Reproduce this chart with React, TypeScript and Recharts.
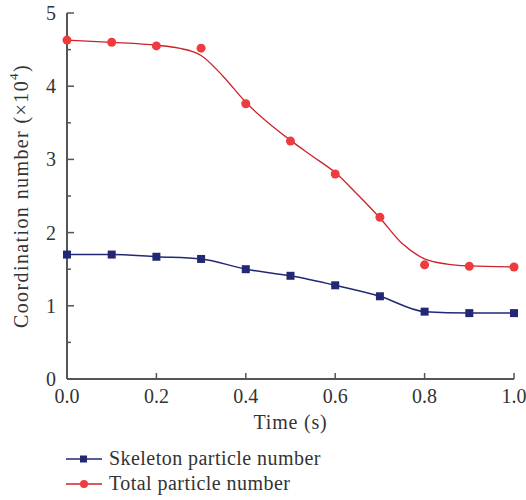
import React from 'react';
import { ComposedChart, Line, Scatter, XAxis, YAxis } from 'recharts';

const times = [0, 0.1, 0.2, 0.3, 0.4, 0.5, 0.6, 0.7, 0.8, 0.9, 1.0];
const skeletonValues = [1.7, 1.7, 1.67, 1.64, 1.5, 1.41, 1.28, 1.13, 0.92, 0.9, 0.9];
const totalValues = [4.63, 4.6, 4.55, 4.52, 3.76, 3.25, 2.8, 2.21, 1.56, 1.54, 1.53];
const totalFitTimes = [0, 0.1, 0.2, 0.25, 0.3, 0.35, 0.4, 0.45, 0.5, 0.55, 0.6, 0.65, 0.7, 0.75, 0.8, 0.85, 0.9, 1.0];
const totalFitValues = [4.63, 4.6, 4.56, 4.52, 4.42, 4.13, 3.78, 3.5, 3.26, 3.04, 2.82, 2.52, 2.2, 1.85, 1.64, 1.57, 1.545, 1.53];
const xTicks = [0, 0.2, 0.4, 0.6, 0.8, 1.0];
const yTicks = [0, 0.5, 1, 1.5, 2, 2.5, 3, 3.5, 4, 4.5, 5];

const skeletonData = times.map((t, i) => ({ t, v: skeletonValues[i] }));
const totalData = times.map((t, i) => ({ t, v: totalValues[i] }));
const totalFitData = totalFitTimes.map((t, i) => ({ t, v: totalFitValues[i] }));

const FONT = '"Liberation Serif", "DejaVu Serif", serif';
const AXIS = '#555555';
const TEXT = '#333333';
const RED_LINE = '#cc2229';
const RED_DOT = '#ee3b3e';
const BLUE = '#232875';

const YTick = (props: any) => {
  const { x, y, payload } = props;
  const v = payload.value as number;
  const major = Math.abs(v - Math.round(v)) < 1e-6;
  return (
    <g>
      <line x1={x} y1={y} x2={x + (major ? 7 : 4)} y2={y} stroke={AXIS} strokeWidth={1.5} />
      {major && (
        <text x={x - 11} y={y} dy="0.35em" textAnchor="end" fontFamily={FONT} fontSize={20} fill={TEXT}>
          {v}
        </text>
      )}
    </g>
  );
};

const XTick = (props: any) => {
  const { x, y, payload } = props;
  const v = payload.value as number;
  return (
    <g>
      <line x1={x} y1={y} x2={x} y2={y - 6} stroke={AXIS} strokeWidth={1.5} />
      <text x={x} y={y + 24} textAnchor="middle" fontFamily={FONT} fontSize={20} fill={TEXT}>
        {v.toFixed(1)}
      </text>
    </g>
  );
};

const YLabel = (props: any) => {
  const vb = props.viewBox || { x: 0, y: 13, width: 67, height: 366 };
  const cx = vb.x + 21;
  const cy = vb.y + vb.height / 2;
  return (
    <text
      x={cx}
      y={cy}
      transform={`rotate(-90, ${cx}, ${cy})`}
      textAnchor="middle"
      dominantBaseline="central"
      fontFamily={FONT}
      fontSize={20}
      letterSpacing={1.4}
      fill={TEXT}
    >
      Coordination number (×10
      <tspan fontSize={13} dy={-8}>4</tspan>
      <tspan dy={8}>)</tspan>
    </text>
  );
};

const XLabel = (props: any) => {
  const vb = props.viewBox || { x: 67, y: 379, width: 447, height: 50 };
  const cx = vb.x + vb.width / 2;
  return (
    <text x={cx} y={vb.y + 50} textAnchor="middle" fontFamily={FONT} fontSize={20} letterSpacing={0.8} fill={TEXT}>
      Time (s)
    </text>
  );
};

const Square = (props: any) => {
  const { cx, cy } = props;
  return <rect x={cx - 4} y={cy - 4} width={8} height={8} fill={BLUE} />;
};

const Dot = (props: any) => {
  const { cx, cy } = props;
  return <circle cx={cx} cy={cy} r={4.5} fill={RED_DOT} />;
};

const LegendRow = ({ color, marker, label }: { color: string; marker: 'square' | 'circle'; label: string }) => (
  <div style={{ display: 'flex', alignItems: 'center', height: 25 }}>
    <svg width={38} height={14} style={{ marginRight: 5 }}>
      <line x1={0} y1={7} x2={36} y2={7} stroke={color} strokeWidth={1.5} />
      {marker === 'square' ? (
        <rect x={14} y={3.5} width={7} height={7} fill={BLUE} />
      ) : (
        <circle cx={18} cy={7} r={4} fill={RED_DOT} />
      )}
    </svg>
    <span style={{ fontFamily: FONT, fontSize: 20, letterSpacing: 0.45, color: TEXT }}>{label}</span>
  </div>
);

export default function App() {
  return (
    <div style={{ position: 'absolute', left: 0, top: 0, width: 526, height: 500, background: '#fff' }}>
      <ComposedChart width={526} height={500} margin={{ top: 13, right: 12, left: 0, bottom: 71 }}>
        <XAxis
          type="number"
          dataKey="t"
          domain={[0, 1]}
          ticks={xTicks}
          tick={<XTick />}
          tickLine={false}
          tickSize={0}
          tickMargin={0}
          height={50}
          axisLine={{ stroke: AXIS, strokeWidth: 2 }}
          allowDuplicatedCategory={false}
          label={<XLabel />}
        />
        <YAxis
          type="number"
          domain={[0, 5]}
          ticks={yTicks}
          tick={<YTick />}
          tickLine={false}
          tickSize={0}
          tickMargin={0}
          width={67}
          interval={0}
          axisLine={{ stroke: AXIS, strokeWidth: 2 }}
          label={<YLabel />}
        />
        <Line
          data={totalFitData}
          dataKey="v"
          type="monotone"
          stroke={RED_LINE}
          strokeWidth={1.3}
          dot={false}
          activeDot={false}
          isAnimationActive={false}
        />
        <Line
          data={skeletonData}
          dataKey="v"
          type="monotone"
          stroke={BLUE}
          strokeWidth={1.5}
          dot={false}
          activeDot={false}
          isAnimationActive={false}
        />
        <Scatter data={totalData} dataKey="v" shape={<Dot />} isAnimationActive={false} />
        <Scatter data={skeletonData} dataKey="v" shape={<Square />} isAnimationActive={false} />
      </ComposedChart>
      <div style={{ position: 'absolute', left: 66, top: 446 }}>
        <LegendRow color={BLUE} marker="square" label="Skeleton particle number" />
        <LegendRow color={RED_LINE} marker="circle" label="Total particle number" />
      </div>
    </div>
  );
}
